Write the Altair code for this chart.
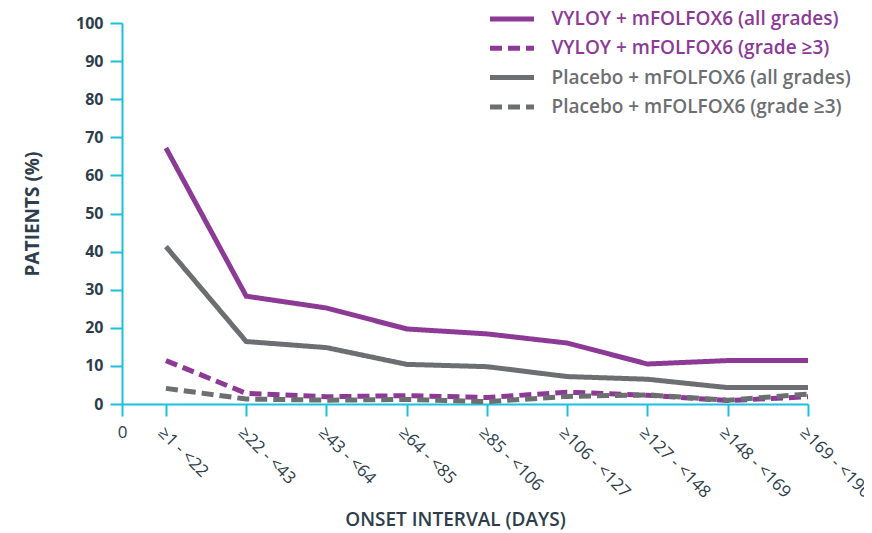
import altair as alt
import pandas as pd

# ---- data ----
intervals = ["≥1 - <22", "≥22 - <43", "≥43 - <64", "≥64 - <85", "≥85 - <106",
             "≥106 - <127", "≥127 - <148", "≥148 - <169", "≥169 - <190"]
interval_start = [1, 22, 43, 64, 85, 106, 127, 148, 169]
interval_end = [22, 43, 64, 85, 106, 127, 148, 169, 190]

series_names = [
    "VYLOY + mFOLFOX6 (all grades)",
    "VYLOY + mFOLFOX6 (grade ≥3)",
    "Placebo + mFOLFOX6 (all grades)",
    "Placebo + mFOLFOX6 (grade ≥3)",
]
vyloy_all = [67.2, 28.3, 25.2, 19.7, 18.4, 16.0, 10.5, 11.4, 11.4]
vyloy_g3 = [11.4, 2.8, 1.9, 2.2, 1.7, 3.1, 2.3, 0.9, 1.9]
placebo_all = [41.3, 16.4, 14.8, 10.4, 9.8, 7.2, 6.5, 4.3, 4.3]
placebo_g3 = [4.1, 1.3, 1.0, 1.2, 0.6, 2.0, 2.4, 1.0, 2.6]
y_ticks = [0, 10, 20, 30, 40, 50, 60, 70, 80, 90, 100]

PURPLE = "#8C3A96"
GRAY = "#6D6E71"
CYAN = "#1BC1DA"
TEXT = "#2E3D4B"
FONT = "Open Sans"

mids = [(s + e) / 2 for s, e in zip(interval_start, interval_end)]
rows = []
for name, vals in zip(series_names, [vyloy_all, vyloy_g3, placebo_all, placebo_g3]):
    for m, lab, v in zip(mids, intervals, vals):
        rows.append({"series": name, "day": m, "interval": lab, "pct": v})
df = pd.DataFrame(rows)

tick_values = [0] + mids
label_expr = (
    "datum.value == 0 ? '0' : ["
    + ",".join("'" + l + "'" for l in intervals)
    + "][indexof(["
    + ",".join(str(m) for m in mids)
    + "], datum.value)]"
)

legend = alt.Legend(
    title=None,
    orient="none",
    legendX=380.5,
    legendY=-13.5,
    symbolType="M-4,0L4,0",
    symbolSize=121,
    symbolStrokeWidth=5,
    labelFont=FONT,
    labelFontSize=19,
    labelFontWeight=600,
    labelColor=alt.ExprRef(expr="indexof(datum.label, 'VYLOY') >= 0 ? '%s' : '%s'" % (PURPLE, GRAY)),
    labelOffset=30,
    rowPadding=8.3,
    padding=0,
    labelLimit=400,
)

chart = alt.Chart(df).mark_line(strokeWidth=5, strokeCap="butt").encode(
    x=alt.X(
        "day:Q",
        scale=alt.Scale(domain=[0, mids[-1]], nice=False, zero=True),
        axis=alt.Axis(
            values=tick_values,
            labelExpr=label_expr,
            labelAngle=alt.ExprRef(expr="datum.value == 0 ? 0 : 45"),
            labelAlign=alt.ExprRef(expr="datum.value == 0 ? 'center' : 'left'"),
            labelBaseline="top",
            title="ONSET INTERVAL (DAYS)",
            grid=False,
            domainColor=CYAN,
            domainWidth=2,
            tickColor=CYAN,
            tickWidth=2,
            tickSize=12,
            labelPadding=8,
            labelFont=FONT,
            labelFontSize=17,
            labelFontWeight=500,
            labelColor=TEXT,
            labelOverlap=False,
            labelFlush=False,
            labelBound=False,
            titleFont=FONT,
            titleFontSize=19,
            titleFontWeight=600,
            titleColor=TEXT,
            titlePadding=10,
            titleX=333,
        ),
    ),
    y=alt.Y(
        "pct:Q",
        scale=alt.Scale(domain=[0, 100], nice=False),
        axis=alt.Axis(
            values=y_ticks,
            title="PATIENTS (%)",
            grid=False,
            domainColor=CYAN,
            domainWidth=2,
            tickColor=CYAN,
            tickWidth=2,
            tickSize=12,
            labelPadding=7,
            labelFont=FONT,
            labelFontSize=16,
            labelFontWeight="bold",
            labelColor=TEXT,
            titleFont=FONT,
            titleFontSize=19,
            titleFontWeight="bold",
            titleColor=TEXT,
            titlePadding=33,
        ),
    ),
    color=alt.Color(
        "series:N",
        scale=alt.Scale(domain=series_names, range=[PURPLE, PURPLE, GRAY, GRAY]),
        legend=legend,
    ),
    strokeDash=alt.StrokeDash(
        "series:N",
        scale=alt.Scale(domain=series_names, range=[[1, 0], [12, 6], [1, 0], [12, 6]]),
        legend=legend,
    ),
).properties(
    width=686,
    height=381,
    autosize=alt.AutoSizeParams(type="none"),
    padding={"left": 114, "top": 15, "right": 56, "bottom": 128},
).configure_view(stroke=None)

chart.save("out.html", embed_options={"renderer": "svg", "actions": False})
